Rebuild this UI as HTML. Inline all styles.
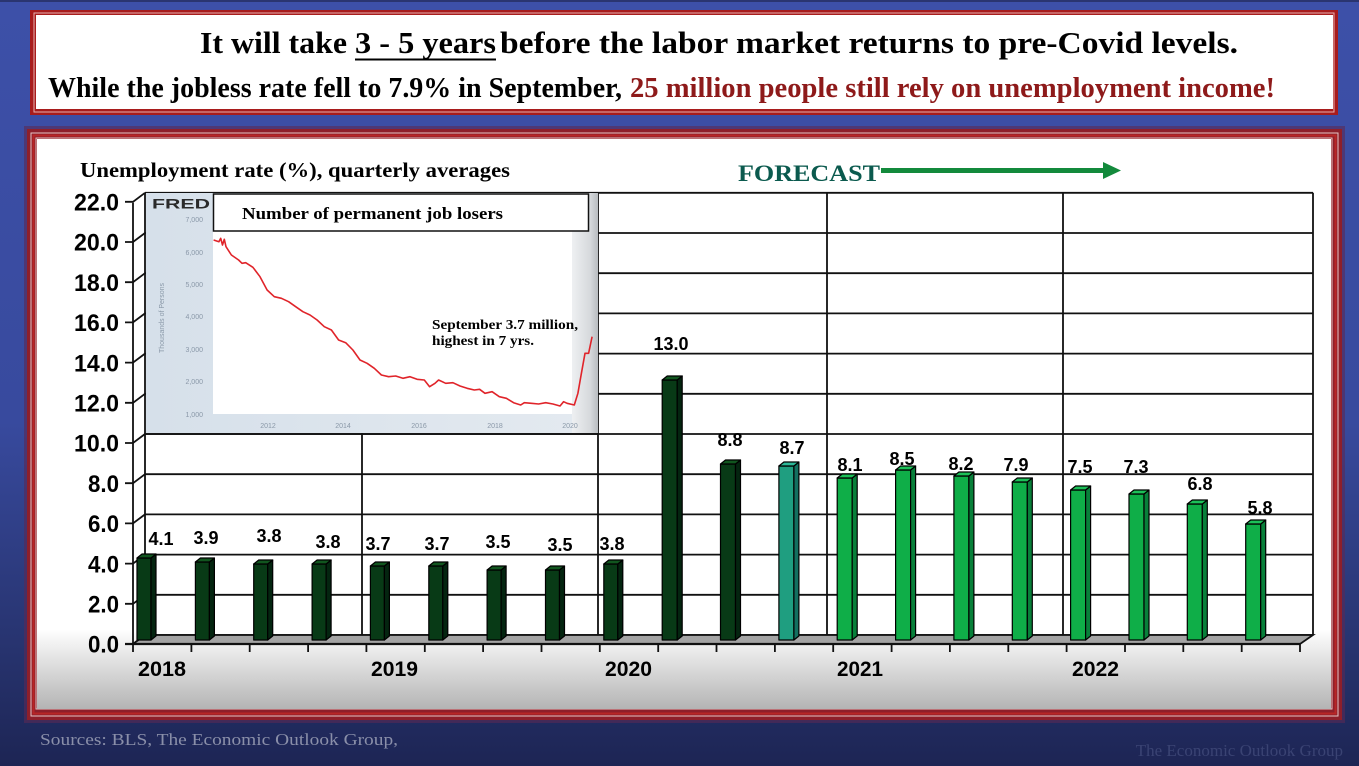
<!DOCTYPE html>
<html><head><meta charset="utf-8"><style>
html,body{margin:0;padding:0;}
body{width:1359px;height:766px;overflow:hidden;}
svg{display:block;}
</style></head><body>
<svg width="1359" height="766" viewBox="0 0 1359 766" xmlns="http://www.w3.org/2000/svg">
<defs>
<linearGradient id="bg" x1="0" y1="0" x2="0" y2="1">
<stop offset="0" stop-color="#3d50a8"/><stop offset="0.55" stop-color="#384a9e"/><stop offset="0.85" stop-color="#27336e"/><stop offset="1" stop-color="#1d2554"/>
</linearGradient>
<linearGradient id="inner" x1="0" y1="0" x2="0" y2="1">
<stop offset="0" stop-color="#ffffff"/><stop offset="0.86" stop-color="#ffffff"/><stop offset="1" stop-color="#b4b4b4"/>
</linearGradient>
<linearGradient id="insetbg" x1="0" y1="0" x2="1" y2="0">
<stop offset="0" stop-color="#d6e0ea"/><stop offset="1" stop-color="#e4eaf0"/>
</linearGradient>
<linearGradient id="strip" x1="0" y1="0" x2="1" y2="0">
<stop offset="0" stop-color="#eef0f2"/><stop offset="0.7" stop-color="#d6d9dc"/><stop offset="1" stop-color="#b8bcc0"/>
</linearGradient>
</defs>
<rect x="0" y="0" width="1359" height="766" fill="url(#bg)"/>
<rect x="0" y="0" width="1359" height="2" fill="#2a3570"/>

<!-- header box -->
<rect x="30" y="10" width="1308" height="105" fill="#a81c1c"/>
<rect x="34" y="13" width="1300" height="99" fill="none" stroke="#e6b0b0" stroke-width="1"/>
<rect x="36" y="15" width="1297" height="94" fill="#ffffff"/>
<g font-family="Liberation Serif, serif" font-weight="bold" fill="#000">
<text x="200" y="53" font-size="31" textLength="147" lengthAdjust="spacingAndGlyphs">It will take</text>
<text x="355" y="53" font-size="31" textLength="141" lengthAdjust="spacingAndGlyphs">3 - 5 years</text>
<text x="500" y="53" font-size="31" textLength="738" lengthAdjust="spacingAndGlyphs">before the labor market returns to pre-Covid levels.</text>
<text x="48" y="97" font-size="29" textLength="574" lengthAdjust="spacingAndGlyphs">While the jobless rate fell to 7.9% in September,</text>
<text x="630" y="97" font-size="29" fill="#8e1a1a" textLength="645" lengthAdjust="spacingAndGlyphs">25 million people still rely on unemployment income!</text>
</g>
<line x1="355" y1="59.5" x2="496" y2="59.5" stroke="#000" stroke-width="2"/>

<!-- chart box -->
<rect x="24" y="126" width="1321" height="597" fill="#5a2a55" opacity="0.6"/>
<rect x="27" y="129" width="1315" height="591" fill="#8e1f2a"/>
<rect x="31" y="133" width="1307" height="583" fill="none" stroke="#e8c4c4" stroke-width="1"/>
<rect x="33.5" y="135.5" width="1302" height="578" fill="none" stroke="#b82626" stroke-width="2"/>
<rect x="36" y="138" width="1296" height="571" fill="none" stroke="#e8c4c4" stroke-width="1"/>
<rect x="37" y="139" width="1294" height="570" fill="url(#inner)"/>

<!-- titles -->
<text x="80" y="177" font-family="Liberation Serif, serif" font-weight="bold" font-size="21" textLength="430" lengthAdjust="spacingAndGlyphs" fill="#000">Unemployment rate (%), quarterly averages</text>
<text x="738" y="181" font-family="Liberation Serif, serif" font-weight="bold" font-size="23" textLength="142" lengthAdjust="spacingAndGlyphs" fill="#0b5a4e">FORECAST</text>
<rect x="881" y="168" width="224" height="5" fill="#138a3c"/>
<polygon points="1103,162 1121,170.5 1103,179" fill="#138a3c"/>

<!-- back wall -->
<rect x="145" y="193" width="1168" height="442" fill="#ffffff"/>
<g stroke="#111" stroke-width="1.8" fill="none">
<line x1="145" y1="635" x2="1313" y2="635"/>
<line x1="145" y1="594.8" x2="1313" y2="594.8"/>
<line x1="145" y1="554.6" x2="1313" y2="554.6"/>
<line x1="145" y1="514.4" x2="1313" y2="514.4"/>
<line x1="145" y1="474.2" x2="1313" y2="474.2"/>
<line x1="145" y1="434" x2="1313" y2="434"/>
<line x1="145" y1="393.8" x2="1313" y2="393.8"/>
<line x1="145" y1="353.6" x2="1313" y2="353.6"/>
<line x1="145" y1="313.4" x2="1313" y2="313.4"/>
<line x1="145" y1="273.2" x2="1313" y2="273.2"/>
<line x1="145" y1="233" x2="1313" y2="233"/>
<line x1="145" y1="192.8" x2="1313" y2="192.8"/>
<line x1="1313" y1="192.8" x2="1313" y2="635"/>
<line x1="145" y1="192.8" x2="145" y2="635"/>
<line x1="362" y1="192.8" x2="362" y2="644"/>
<line x1="598" y1="192.8" x2="598" y2="644"/>
<line x1="827" y1="192.8" x2="827" y2="644"/>
<line x1="1063" y1="192.8" x2="1063" y2="644"/>
</g>

<!-- inset FRED chart -->
<rect x="146" y="193" width="452" height="240" fill="url(#insetbg)"/>
<rect x="213" y="231" width="360" height="183" fill="#ffffff"/>
<rect x="572" y="193" width="26" height="240" fill="url(#strip)"/>
<rect x="213.5" y="194" width="375" height="37" fill="#ffffff" stroke="#111" stroke-width="1.5"/>
<text x="242" y="219" font-family="Liberation Serif, serif" font-weight="bold" font-size="17" textLength="261" lengthAdjust="spacingAndGlyphs" fill="#000">Number of permanent job losers</text>
<text x="152" y="208.5" font-family="Liberation Sans, sans-serif" font-weight="bold" font-size="14" textLength="58" lengthAdjust="spacingAndGlyphs" fill="#2a2a2a">FRED</text>
<g font-family="Liberation Sans, sans-serif" font-size="7" fill="#8a98a8" text-anchor="end">
<text x="203" y="222">7,000</text>
<text x="203" y="255">6,000</text>
<text x="203" y="287">5,000</text>
<text x="203" y="319">4,000</text>
<text x="203" y="352">3,000</text>
<text x="203" y="384">2,000</text>
<text x="203" y="417">1,000</text>
</g>
<text transform="translate(164,318) rotate(-90)" font-family="Liberation Sans, sans-serif" font-size="7" fill="#8a98a8" text-anchor="middle">Thousands of Persons</text>
<g font-family="Liberation Sans, sans-serif" font-size="7" fill="#8a98a8" text-anchor="middle">
<text x="268" y="428">2012</text>
<text x="343" y="428">2014</text>
<text x="419" y="428">2016</text>
<text x="495" y="428">2018</text>
<text x="570" y="428">2020</text>
</g>
<polyline fill="none" stroke="#e0242a" stroke-width="1.6" stroke-linejoin="round" points="213.6,240 218.9,241.7 220.7,238.3 222.5,245 224.3,239.3 226,246.7 231.4,255 238.6,260 242,263.3 245.7,262.7 252.9,267.3 260,276.7 267.1,290 274.3,296.7 281.4,298.3 288.6,301.7 295.7,306.7 302.9,311.7 310,315 317.1,320 324.3,326.7 331.4,330 338.6,340 345.7,342.7 352.9,350 360,360 367.1,363.3 374.3,368.3 381.4,375 388.6,376.7 395.7,376 402.9,378.3 410,376.7 417.1,379.3 424.3,380 429.6,386.7 435,383.3 438.6,380 445.7,383.3 452.9,382.7 460,386 467.1,388.3 474.3,390 479.6,389.3 485,393.3 492.1,391.7 499.3,396.7 506.4,398.3 513.6,402.7 520.7,405 524.3,402.7 531.4,403.3 538.6,404 545.7,402.7 552.9,404 560,406 563.6,401.7 567.1,403.3 574.3,405 577.9,393.3 581.4,373.3 585,353.3 588.6,353.3 592.1,336.7"/>
<g font-family="Liberation Serif, serif" font-weight="bold" font-size="14" fill="#000">
<text x="432" y="329" textLength="146" lengthAdjust="spacingAndGlyphs">September 3.7 million,</text>
<text x="432" y="345" textLength="102" lengthAdjust="spacingAndGlyphs">highest in 7 yrs.</text>
</g>
<line x1="146" y1="434" x2="598" y2="434" stroke="#111" stroke-width="1.8"/>

<!-- left side wall -->
<g stroke="#111" stroke-width="1.8" fill="none">
<line x1="133" y1="202.8" x2="133" y2="644"/>
<path d="M125,644H133L145,635M125,603.8H133L145,594.8M125,563.6H133L145,554.6M125,523.4H133L145,514.4M125,483.2H133L145,474.2M125,443H133L145,434M125,402.8H133L145,393.8M125,362.6H133L145,353.6M125,322.4H133L145,313.4M125,282.2H133L145,273.2M125,242H133L145,233M125,201.8H133L145,192.8"/>
</g>

<!-- floor -->
<polygon points="133,644 145,635 1313,635 1300,644" fill="#a4a4a4" stroke="#111" stroke-width="1.8"/>
<line x1="125" y1="644" x2="1300" y2="644" stroke="#111" stroke-width="2.2"/>
<g stroke="#111" stroke-width="1.8">
<line x1="133" y1="644" x2="133" y2="652"/><line x1="191.4" y1="644" x2="191.4" y2="652"/><line x1="249.7" y1="644" x2="249.7" y2="652"/><line x1="308.1" y1="644" x2="308.1" y2="652"/><line x1="366.4" y1="644" x2="366.4" y2="652"/><line x1="424.8" y1="644" x2="424.8" y2="652"/><line x1="483.1" y1="644" x2="483.1" y2="652"/><line x1="541.5" y1="644" x2="541.5" y2="652"/><line x1="599.8" y1="644" x2="599.8" y2="652"/><line x1="658.2" y1="644" x2="658.2" y2="652"/><line x1="716.5" y1="644" x2="716.5" y2="652"/><line x1="774.9" y1="644" x2="774.9" y2="652"/><line x1="833.2" y1="644" x2="833.2" y2="652"/><line x1="891.6" y1="644" x2="891.6" y2="652"/><line x1="949.9" y1="644" x2="949.9" y2="652"/><line x1="1008.3" y1="644" x2="1008.3" y2="652"/><line x1="1066.6" y1="644" x2="1066.6" y2="652"/><line x1="1125" y1="644" x2="1125" y2="652"/><line x1="1183.3" y1="644" x2="1183.3" y2="652"/><line x1="1241.7" y1="644" x2="1241.7" y2="652"/><line x1="1300" y1="644" x2="1300" y2="652"/>
</g>

<!-- bars -->
<g stroke="#000" stroke-width="1.2" stroke-linejoin="round">
<!-- k=0 4.1 -->
<g><rect x="137" y="558" width="14" height="82" fill="#083a16"/><polygon points="151,558 156,554 156,636 151,640" fill="#042510"/><polygon points="137,558 142,554 156,554 151,558" fill="#11561f"/></g>
<g><rect x="195.4" y="562" width="14" height="78" fill="#083a16"/><polygon points="209.4,562 214.4,558 214.4,636 209.4,640" fill="#042510"/><polygon points="195.4,562 200.4,558 214.4,558 209.4,562" fill="#11561f"/></g>
<g><rect x="253.7" y="564" width="14" height="76" fill="#083a16"/><polygon points="267.7,564 272.7,560 272.7,636 267.7,640" fill="#042510"/><polygon points="253.7,564 258.7,560 272.7,560 267.7,564" fill="#11561f"/></g>
<g><rect x="312.1" y="564" width="14" height="76" fill="#083a16"/><polygon points="326.1,564 331.1,560 331.1,636 326.1,640" fill="#042510"/><polygon points="312.1,564 317.1,560 331.1,560 326.1,564" fill="#11561f"/></g>
<g><rect x="370.4" y="566" width="14" height="74" fill="#083a16"/><polygon points="384.4,566 389.4,562 389.4,636 384.4,640" fill="#042510"/><polygon points="370.4,566 375.4,562 389.4,562 384.4,566" fill="#11561f"/></g>
<g><rect x="428.8" y="566" width="14" height="74" fill="#083a16"/><polygon points="442.8,566 447.8,562 447.8,636 442.8,640" fill="#042510"/><polygon points="428.8,566 433.8,562 447.8,562 442.8,566" fill="#11561f"/></g>
<g><rect x="487.1" y="570" width="14" height="70" fill="#083a16"/><polygon points="501.1,570 506.1,566 506.1,636 501.1,640" fill="#042510"/><polygon points="487.1,570 492.1,566 506.1,566 501.1,570" fill="#11561f"/></g>
<g><rect x="545.5" y="570" width="14" height="70" fill="#083a16"/><polygon points="559.5,570 564.5,566 564.5,636 559.5,640" fill="#042510"/><polygon points="545.5,570 550.5,566 564.5,566 559.5,570" fill="#11561f"/></g>
<g><rect x="603.8" y="564" width="14" height="76" fill="#083a16"/><polygon points="617.8,564 622.8,560 622.8,636 617.8,640" fill="#042510"/><polygon points="603.8,564 608.8,560 622.8,560 617.8,564" fill="#11561f"/></g>
<g><rect x="662.2" y="380" width="15" height="260" fill="#083a16"/><polygon points="677.2,380 682.2,376 682.2,636 677.2,640" fill="#042510"/><polygon points="662.2,380 667.2,376 682.2,376 677.2,380" fill="#11561f"/></g>
<g><rect x="720.5" y="464" width="15" height="176" fill="#083a16"/><polygon points="735.5,464 740.5,460 740.5,636 735.5,640" fill="#042510"/><polygon points="720.5,464 725.5,460 740.5,460 735.5,464" fill="#11561f"/></g>
<!-- teal -->
<g><rect x="778.9" y="466" width="15" height="174" fill="#1f9e80"/><polygon points="793.9,466 798.9,462 798.9,636 793.9,640" fill="#137060"/><polygon points="778.9,466 783.9,462 798.9,462 793.9,466" fill="#2cb898"/></g>
<!-- green -->
<g><rect x="837.2" y="478" width="15" height="162" fill="#0fae48"/><polygon points="852.2,478 857.2,474 857.2,636 852.2,640" fill="#08803a"/><polygon points="837.2,478 842.2,474 857.2,474 852.2,478" fill="#1cc058"/></g>
<g><rect x="895.6" y="470" width="15" height="170" fill="#0fae48"/><polygon points="910.6,470 915.6,466 915.6,636 910.6,640" fill="#08803a"/><polygon points="895.6,470 900.6,466 915.6,466 910.6,470" fill="#1cc058"/></g>
<g><rect x="953.9" y="476" width="15" height="164" fill="#0fae48"/><polygon points="968.9,476 973.9,472 973.9,636 968.9,640" fill="#08803a"/><polygon points="953.9,476 958.9,472 973.9,472 968.9,476" fill="#1cc058"/></g>
<g><rect x="1012.3" y="482" width="15" height="158" fill="#0fae48"/><polygon points="1027.3,482 1032.3,478 1032.3,636 1027.3,640" fill="#08803a"/><polygon points="1012.3,482 1017.3,478 1032.3,478 1027.3,482" fill="#1cc058"/></g>
<g><rect x="1070.6" y="490" width="15" height="150" fill="#0fae48"/><polygon points="1085.6,490 1090.6,486 1090.6,636 1085.6,640" fill="#08803a"/><polygon points="1070.6,490 1075.6,486 1090.6,486 1085.6,490" fill="#1cc058"/></g>
<g><rect x="1129" y="494" width="15" height="146" fill="#0fae48"/><polygon points="1144,494 1149,490 1149,636 1144,640" fill="#08803a"/><polygon points="1129,494 1134,490 1149,490 1144,494" fill="#1cc058"/></g>
<g><rect x="1187.3" y="504" width="15" height="136" fill="#0fae48"/><polygon points="1202.3,504 1207.3,500 1207.3,636 1202.3,640" fill="#08803a"/><polygon points="1187.3,504 1192.3,500 1207.3,500 1202.3,504" fill="#1cc058"/></g>
<g><rect x="1245.7" y="524" width="15" height="116" fill="#0fae48"/><polygon points="1260.7,524 1265.7,520 1265.7,636 1260.7,640" fill="#08803a"/><polygon points="1245.7,524 1250.7,520 1265.7,520 1260.7,524" fill="#1cc058"/></g>
</g>

<!-- value labels -->
<g font-family="Liberation Sans, sans-serif" font-weight="bold" font-size="18" fill="#000" text-anchor="middle">
<text x="161" y="545">4.1</text>
<text x="206" y="544">3.9</text>
<text x="269" y="542">3.8</text>
<text x="328" y="548">3.8</text>
<text x="378" y="550">3.7</text>
<text x="437" y="550">3.7</text>
<text x="498" y="548">3.5</text>
<text x="560" y="551">3.5</text>
<text x="612" y="550">3.8</text>
<text x="671" y="350">13.0</text>
<text x="730" y="446">8.8</text>
<text x="792" y="454">8.7</text>
<text x="850" y="471">8.1</text>
<text x="902" y="465">8.5</text>
<text x="961" y="470">8.2</text>
<text x="1016" y="471">7.9</text>
<text x="1080" y="473">7.5</text>
<text x="1136" y="473">7.3</text>
<text x="1200" y="490">6.8</text>
<text x="1260" y="514">5.8</text>
</g>

<!-- y axis labels -->
<g font-family="Liberation Sans, sans-serif" font-weight="bold" font-size="24" fill="#000" text-anchor="end">
<text x="119" y="210.5" textLength="45" lengthAdjust="spacingAndGlyphs">22.0</text>
<text x="119" y="250.7" textLength="45" lengthAdjust="spacingAndGlyphs">20.0</text>
<text x="119" y="290.9" textLength="45" lengthAdjust="spacingAndGlyphs">18.0</text>
<text x="119" y="331.1" textLength="45" lengthAdjust="spacingAndGlyphs">16.0</text>
<text x="119" y="371.3" textLength="45" lengthAdjust="spacingAndGlyphs">14.0</text>
<text x="119" y="411.5" textLength="45" lengthAdjust="spacingAndGlyphs">12.0</text>
<text x="119" y="451.7" textLength="45" lengthAdjust="spacingAndGlyphs">10.0</text>
<text x="119" y="491.9" textLength="31" lengthAdjust="spacingAndGlyphs">8.0</text>
<text x="119" y="532.1" textLength="31" lengthAdjust="spacingAndGlyphs">6.0</text>
<text x="119" y="572.3" textLength="31" lengthAdjust="spacingAndGlyphs">4.0</text>
<text x="119" y="612.5" textLength="31" lengthAdjust="spacingAndGlyphs">2.0</text>
<text x="119" y="652.7" textLength="31" lengthAdjust="spacingAndGlyphs">0.0</text>
</g>

<!-- year labels -->
<g font-family="Liberation Sans, sans-serif" font-weight="bold" font-size="21.5" fill="#000">
<text x="138" y="676" textLength="48" lengthAdjust="spacingAndGlyphs">2018</text>
<text x="371" y="676" textLength="47" lengthAdjust="spacingAndGlyphs">2019</text>
<text x="605" y="676" textLength="47" lengthAdjust="spacingAndGlyphs">2020</text>
<text x="837" y="676" textLength="46" lengthAdjust="spacingAndGlyphs">2021</text>
<text x="1072" y="676" textLength="47" lengthAdjust="spacingAndGlyphs">2022</text>
</g>

<!-- footer -->
<text x="40" y="745" font-family="Liberation Serif, serif" font-size="17" fill="#8a8fa9" textLength="358" lengthAdjust="spacingAndGlyphs">Sources:  BLS,  The Economic Outlook Group,</text>
<text x="1343" y="756" font-family="Liberation Serif, serif" font-size="17" fill="#3a4373" text-anchor="end">The Economic Outlook Group</text>
</svg>
</body></html>
